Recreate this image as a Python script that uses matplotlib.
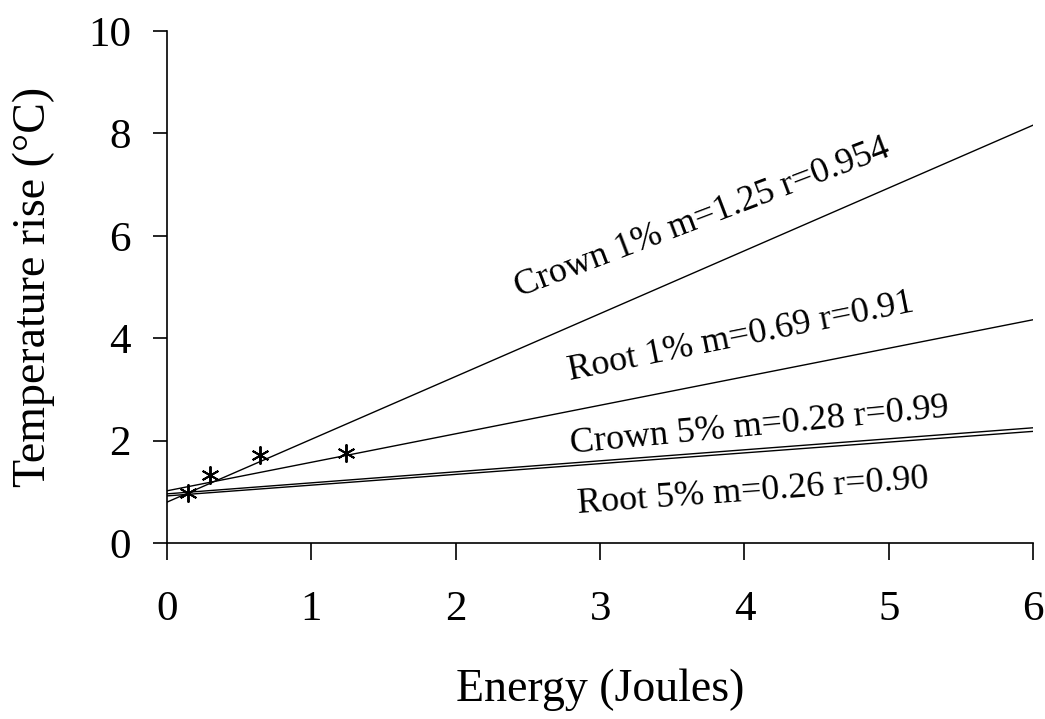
import numpy as np
import matplotlib.pyplot as plt

plt.rcParams['font.family'] = ['Liberation Serif', 'DejaVu Serif']

# x range of the fitted lines
x_ends = [0, 6]

# fitted lines (value at x=0, value at x=6)
crown1 = [0.80, 8.16]
root1 = [1.02, 4.36]
crown5 = [0.96, 2.25]
root5 = [0.92, 2.18]

# measured points (asterisks)
pts_x = [0.145, 0.30, 0.64, 1.24]
pts_y = [0.98, 1.33, 1.72, 1.76]

# label text, anchor (x, y) and angle
labels = ['Crown 1% m=1.25 r=0.954', 'Root 1% m=0.69 r=0.91',
          'Crown 5% m=0.28 r=0.99', 'Root 5% m=0.26 r=0.90']
label_x = [2.44, 2.79, 2.80, 2.85]
label_y = [4.80, 3.18, 1.76, 0.59]
label_rot = [20.8, 11.3, 5.5, 4.1]

fig = plt.figure(figsize=(10.45, 7.19), dpi=100)
ax = fig.add_axes([0.160, 0.2448, 0.8285, 0.7121])

for line in [crown1, root1, crown5, root5]:
    ax.plot(x_ends, line, color='black', linewidth=1.0)

ax.plot(pts_x, pts_y, linestyle='none', marker=(6, 2, 0), markersize=13,
        markeredgewidth=1.4, color='black')

for txt, lx, ly, rot in zip(labels, label_x, label_y, label_rot):
    ax.text(lx, ly, txt, fontsize=26, rotation=rot, rotation_mode='anchor',
            ha='left', va='baseline')

ax.set_xlim(0, 6)
ax.set_ylim(0, 10)
ax.set_xticks(range(0, 7))
ax.set_yticks(range(0, 11, 2))

ax.spines['top'].set_visible(False)
ax.spines['right'].set_visible(False)
ax.spines['left'].set_linewidth(1.2)
ax.spines['bottom'].set_linewidth(1.2)

ax.tick_params(axis='x', direction='out', length=12, width=1.2, pad=22, labelsize=31)
ax.tick_params(axis='y', direction='out', length=10, width=1.2, pad=16, labelsize=31)

ax.set_xlabel('Energy (Joules)', fontsize=33, va='center')
ax.set_ylabel('Temperature rise (°C)', fontsize=33, va='center')
ax.xaxis.set_label_coords(0.5, -0.287)
ax.yaxis.set_label_coords(-0.154, 0.5)

plt.savefig('out.png', dpi=100)
